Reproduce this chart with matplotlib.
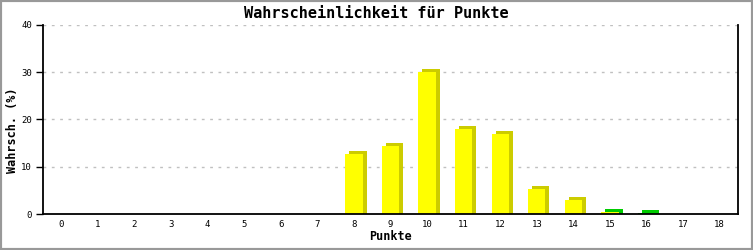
import numpy as np
import matplotlib.pyplot as plt
from matplotlib.transforms import ScaledTranslation
from matplotlib.patches import Rectangle

# data
punkte = list(range(0, 19))
prozent = [0, 0, 0, 0, 0, 0, 0, 0, 12.6, 14.3, 30.0, 17.9, 17.0, 5.3, 3.0, 0.4, 0.2, 0, 0]
yticks = [0, 10, 20, 30, 40]

front_col = ['#ffff00'] * 15 + ['#ffff00', '#00cc00', '#ffff00', '#ffff00']
side_col = ['#cccc00'] * 15 + ['#00cc00', '#00cc00', '#cccc00', '#cccc00']

fig = plt.figure(figsize=(7.53, 2.5), dpi=100)
fig.patch.set_facecolor('white')
# grey frame around the whole image
fig.patches.append(Rectangle((0, 0), 1, 1, transform=fig.transFigure, fill=False,
                             edgecolor='#999999', linewidth=3))

ax = fig.add_axes([43/753, 36/250, 695/753, 189/250])
ax.set_xlim(-0.5, 18.5)
ax.set_ylim(0, 40)

for y in yticks[1:]:
    ax.axhline(y, color='#c0c0c0', linestyle=(0, (2, 4)), linewidth=1, zorder=0)

xs = np.array(punkte)
vals = np.array(prozent)
# fake 3d: darker copy shifted 4px right, 3px up, reaching down to the axis
shift = ax.transData + ScaledTranslation(4/100, 3/100, fig.dpi_scale_trans)
dy = 3 * 40 / 189
show = vals > 0
ax.bar(xs[show], vals[show] + dy, bottom=-dy, width=0.47,
       color=np.array(side_col)[show], transform=shift, zorder=2)
ax.bar(xs[show], vals[show], width=0.47, color=np.array(front_col)[show], zorder=3)

ax.set_xticks(punkte)
ax.set_xticklabels([str(p) for p in punkte], family='DejaVu Sans Mono', fontsize=6.5)
ax.set_yticks(yticks)
ax.set_yticklabels([str(v) for v in yticks], family='DejaVu Sans Mono', fontsize=6.5)
ax.tick_params(axis='x', length=0, pad=4)
ax.tick_params(axis='y', length=5, width=1, pad=3)

ax.spines['top'].set_visible(False)
for s in ['left', 'right', 'bottom']:
    ax.spines[s].set_linewidth(1.3)
    ax.spines[s].set_zorder(5)

ax.set_xlabel('Punkte', family='DejaVu Sans Mono', fontweight='bold', fontsize=8.5, labelpad=1)
fig.text(13/753, 120/250, 'Wahrsch. (%)', rotation=90, ha='center', va='center',
         family='DejaVu Sans Mono', fontweight='bold', fontsize=8.5)
fig.text(0.5, 0.948, 'Wahrscheinlichkeit für Punkte', ha='center', va='center',
         family='DejaVu Sans Mono', fontweight='bold', fontsize=11)

fig.savefig('out.png', dpi=100, facecolor='white')
